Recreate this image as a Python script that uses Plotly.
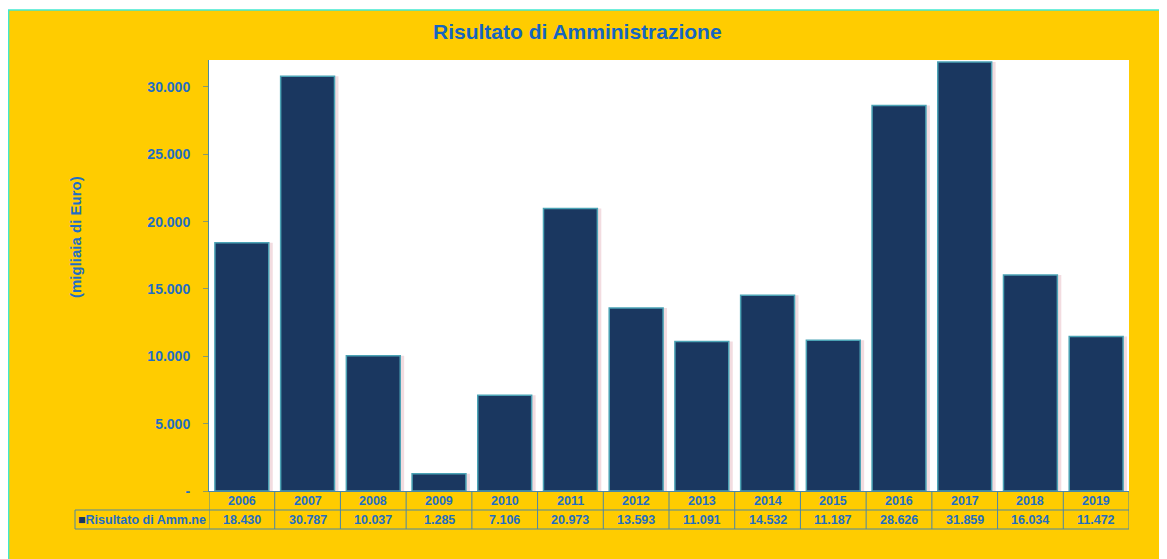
import plotly.graph_objects as go

years = ["2006", "2007", "2008", "2009", "2010", "2011", "2012",
         "2013", "2014", "2015", "2016", "2017", "2018", "2019"]
values = [18430, 30787, 10037, 1285, 7106, 20973, 13593,
          11091, 14532, 11187, 28626, 31859, 16034, 11472]
series_name = "Risultato di Amm.ne"
title_text = "Risultato di Amministrazione"
y_title = "(migliaia di Euro)"
y_tickvals = [0, 5000, 10000, 15000, 20000, 25000, 30000]
y_ticktext = ["-", "5.000", "10.000", "15.000", "20.000", "25.000", "30.000"]

OFF = 8  # page body margin
W, H = 1167, 559
# plot area in page coordinates: x 209..1129, y 60..491
L = 209 - OFF
T = 60 - OFF
R = W - (1129 - OFF)
B = H - (491 - OFF)
PW, PH = W - L - R, H - T - B

def px_x(page_px):
    return (page_px - OFF - L) / PW

def px_y(page_py):
    return (H - B - (page_py - OFF)) / PH

NAVY = "#1A3760"
BLUE = "#1F6EC4"
TEAL = "#4BA3B5"
GRID = "#4A86A8"
FONT = "Arial, Liberation Sans, sans-serif"

fig = go.Figure()
# shadow
fig.add_trace(go.Bar(x=years, y=values, width=0.82, offset=-0.35,
                     marker=dict(color="#F2DCE0", line=dict(width=0)),
                     hoverinfo="skip", showlegend=False))
fig.add_trace(go.Bar(x=years, y=values, width=0.82, offset=-0.41, name=series_name,
                     marker=dict(color=NAVY, line=dict(color=TEAL, width=1.5)),
                     showlegend=False))

shapes = []
# white strip at top + teal frame border
shapes.append(dict(type="rect", xref="paper", yref="paper", x0=px_x(0), x1=px_x(1200),
                   y0=px_y(10), y1=px_y(0), fillcolor="white", line=dict(width=0), layer="below"))
shapes.append(dict(type="line", xref="paper", yref="paper", x0=px_x(8), x1=px_x(1200),
                   y0=px_y(10), y1=px_y(10), line=dict(color="#40E8D0", width=1.5)))
shapes.append(dict(type="line", xref="paper", yref="paper", x0=px_x(8.6), x1=px_x(8.6),
                   y0=px_y(10), y1=px_y(600), line=dict(color="#40E8D0", width=1.5)))

# data table
row1_bot = px_y(510)
row2_bot = px_y(529)
label_left = px_x(75)
for i in range(len(years) + 1):
    shapes.append(dict(type="line", xref="x", yref="paper", x0=i - 0.5, x1=i - 0.5,
                       y0=0, y1=row2_bot, line=dict(color=GRID, width=1)))
for yy in (row1_bot, row2_bot):
    shapes.append(dict(type="line", xref="paper", yref="paper", x0=label_left, x1=1,
                       y0=yy, y1=yy, line=dict(color=GRID, width=1)))
shapes.append(dict(type="line", xref="paper", yref="paper", x0=label_left, x1=label_left,
                   y0=row1_bot, y1=row2_bot, line=dict(color=GRID, width=1)))

annotations = []
row1_c = px_y(501)
row2_c = px_y(520)
for i, (yr, v) in enumerate(zip(years, values)):
    annotations.append(dict(x=i, y=row1_c, xref="x", yref="paper", text=f"<b>{yr}</b>", showarrow=False,
                            font=dict(family=FONT, size=12.5, color=BLUE), xanchor="center", yanchor="middle"))
    annotations.append(dict(x=i, y=row2_c, xref="x", yref="paper",
                            text="<b>" + f"{v:,}".replace(",", ".") + "</b>",
                            showarrow=False, font=dict(family=FONT, size=12.5, color=BLUE),
                            xanchor="center", yanchor="middle"))
annotations.append(dict(x=px_x(142), y=row2_c, xref="paper", yref="paper",
                        text=f"<b><span style='color:{NAVY}'>■</span>{series_name}</b>", showarrow=False,
                        font=dict(family=FONT, size=12.5, color=BLUE), xanchor="center", yanchor="middle"))
annotations.append(dict(x=px_x(75), y=px_y(237), xref="paper", yref="paper", text=f"<b>{y_title}</b>",
                        textangle=-90, showarrow=False, font=dict(family=FONT, size=15, color=BLUE),
                        xanchor="center", yanchor="middle"))
annotations.append(dict(x=px_x(577), y=px_y(31), xref="paper", yref="paper", text=f"<b>{title_text}</b>",
                        showarrow=False, font=dict(family=FONT, size=21, color="#1565C0"),
                        xanchor="center", yanchor="middle"))

fig.update_layout(
    width=W, height=H,
    margin=dict(l=L, r=R, t=T, b=B, pad=0),
    paper_bgcolor="#FFCC00",
    plot_bgcolor="white",
    barmode="overlay",
    font=dict(family=FONT, color=BLUE),
    shapes=shapes,
    annotations=annotations,
    showlegend=False,
    xaxis=dict(type="category", range=[-0.5, len(years) - 0.5], showticklabels=False, ticks="",
               showgrid=False, showline=True, linecolor=GRID, linewidth=1, zeroline=False, fixedrange=True),
    yaxis=dict(range=[0, 32000], tickvals=y_tickvals, ticktext=y_ticktext, ticks="outside",
               ticklen=5, tickcolor="#8C9A6A", tickwidth=1, showgrid=False, zeroline=False,
               showline=True, linecolor="#4A8AA0", linewidth=1, ticklabelstandoff=10,
               tickfont=dict(family=FONT, size=14, color=BLUE, weight="bold"), fixedrange=True),
)

fig.write_html("out.html",
               post_script="document.documentElement.style.overflow='hidden';"
                           "document.body.style.overflow='hidden';")
